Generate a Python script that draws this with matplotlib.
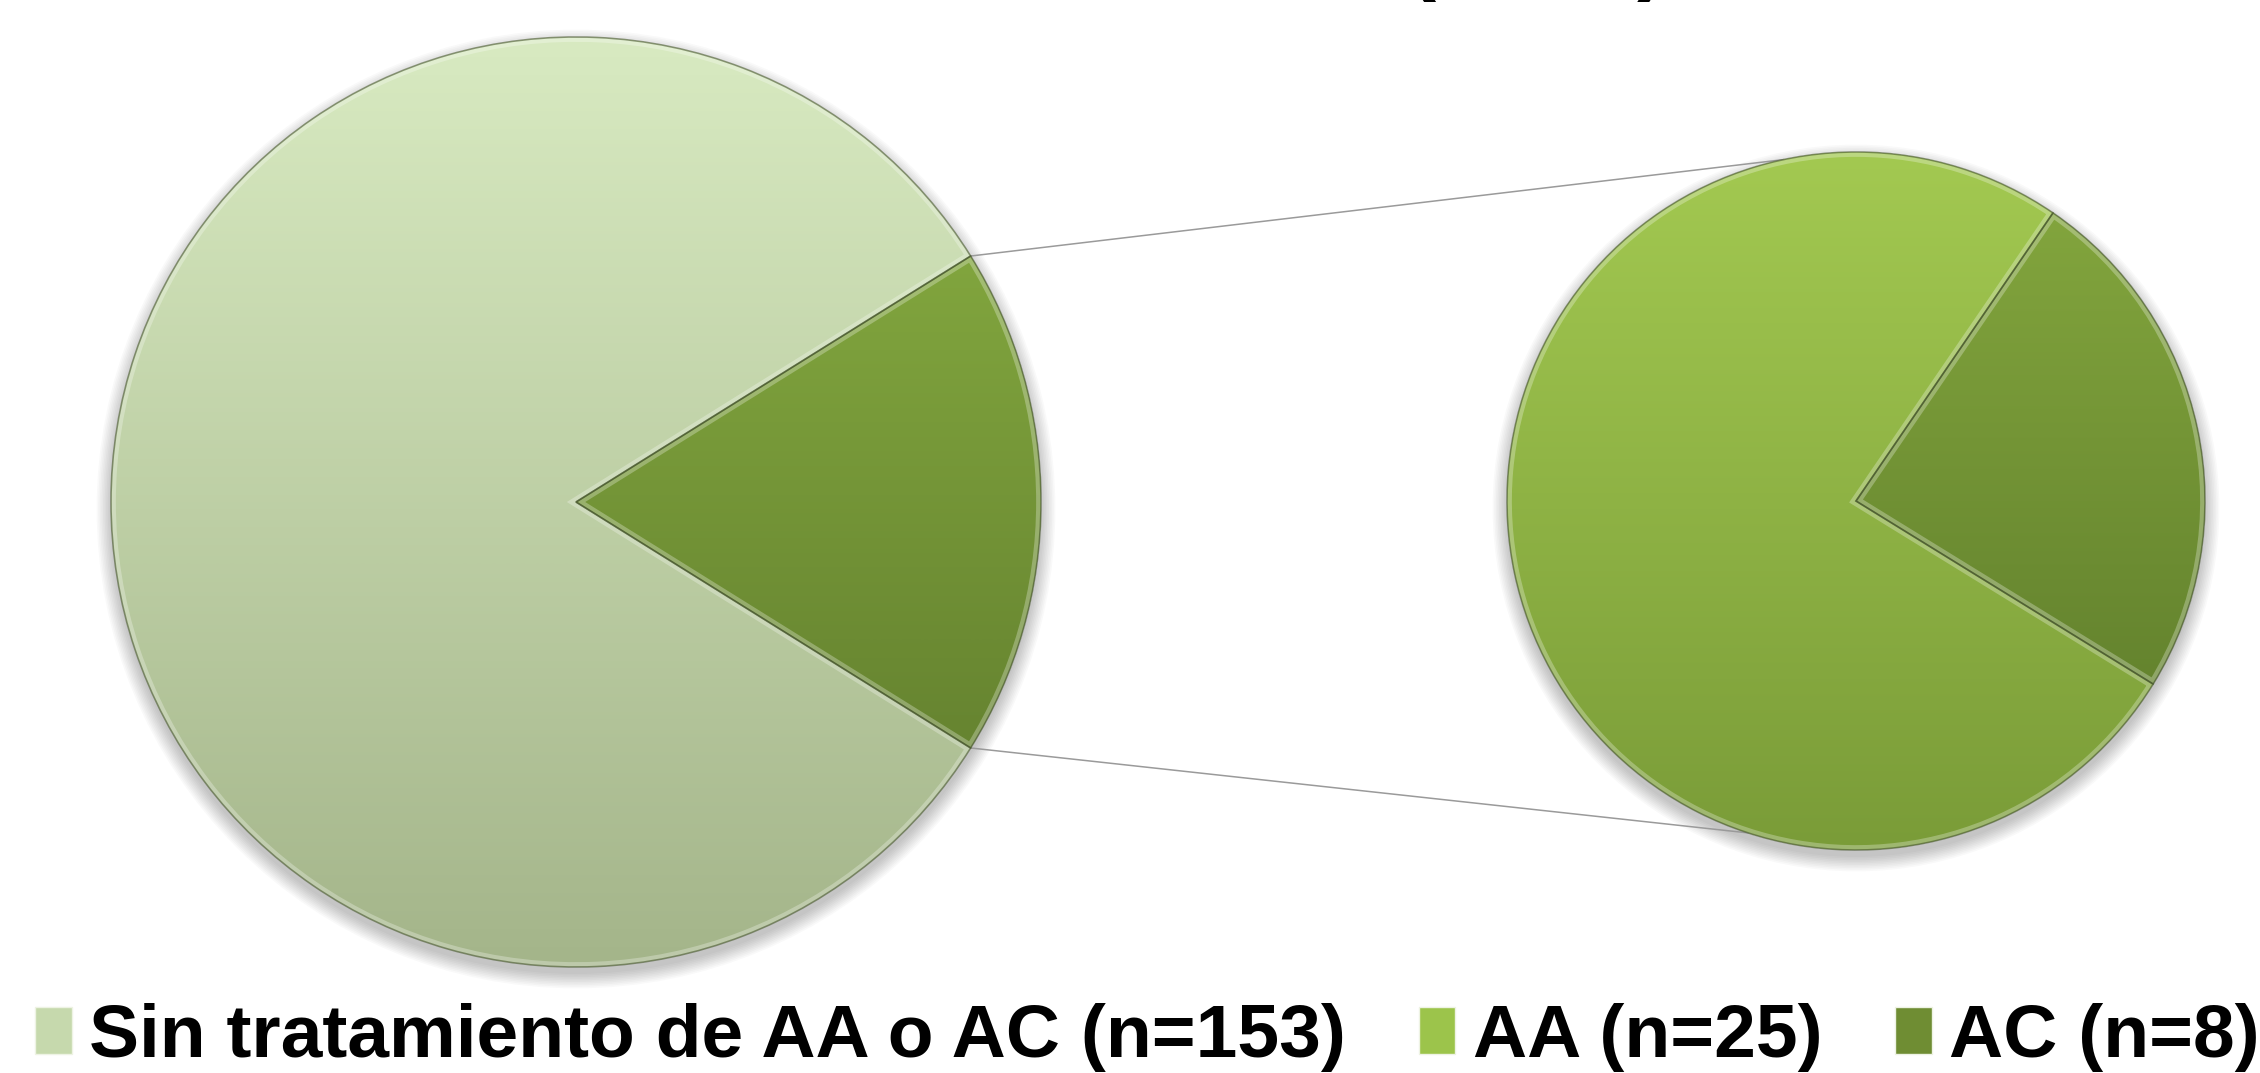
import numpy as np
import matplotlib
matplotlib.use("Agg")
import matplotlib.pyplot as plt
from matplotlib.colors import LinearSegmentedColormap
from matplotlib.patches import Patch, Wedge, Circle
from matplotlib.font_manager import FontProperties

# ── Data ───────────────────────────────────────────────────────────
labels = ["Sin tratamiento de AA o AC (n=153)", "AA (n=25)", "AC (n=8)"]
main_values = [153, 25 + 8]        # main pie: untreated vs. treated group
sub_values = [25, 8]               # secondary pie: AA vs. AC
title_text = "(n=33)"              # only the bottom of this line shows

# colours: (top of gradient, bottom of gradient)
sin_grad = ("#d8eac1", "#a4b58a")
grp_grad = ("#8db444", "#5a752a")
aa_grad = ("#a3c951", "#7a9c38")
ac_grad = ("#86a93f", "#5a7829")
legend_colors = ["#c6d9ad", "#9cc44b", "#6f8d33"]

W, H = 2260, 1073
fig = plt.figure(figsize=(W / 100, H / 100), dpi=100)
ax = fig.add_axes([0, 0, 1, 1])

left_c, left_r = (576, 571), 465
right_c, right_r = (1856, 572), 349


def soft_shadow(center, r):
    # blurred grey shadow slightly below the pie
    for k in range(10):
        ax.add_patch(Circle((center[0], center[1] - 7), r + k * 1.6,
                            facecolor="black", edgecolor="none",
                            alpha=0.022, zorder=0))


def shade_wedges(wedges, grads, center, r):
    for w, (top, bot) in zip(wedges, grads):
        cmap = LinearSegmentedColormap.from_list("g", [bot, top])
        grad = np.linspace(1, 0, 256).reshape(-1, 1)
        im = ax.imshow(grad, cmap=cmap, aspect="auto",
                       extent=[center[0] - r, center[0] + r,
                               center[1] - r, center[1] + r],
                       zorder=2, interpolation="bilinear")
        im.set_clip_path(w)
        # light bevel inside the slice
        hl = Wedge(w.center, w.r, w.theta1, w.theta2, fill=False,
                   edgecolor="white", linewidth=7, alpha=0.28, zorder=3)
        ax.add_patch(hl)
        hl.set_clip_path(w)
        # thin dark outline
        ax.add_patch(Wedge(w.center, w.r, w.theta1, w.theta2, fill=False,
                           edgecolor="#3f4f25", linewidth=1.2, alpha=0.55,
                           zorder=4))


soft_shadow(left_c, left_r)
soft_shadow(right_c, right_r)

# main pie: treated group centred on the right-hand side
grp_frac = main_values[1] / sum(main_values)
left_wedges, _ = ax.pie(main_values, center=left_c, radius=left_r,
                        startangle=180 * grp_frac, counterclock=True,
                        colors=[sin_grad[1], grp_grad[1]],
                        wedgeprops=dict(linewidth=0, zorder=1))

# secondary pie
ac_frac = sub_values[1] / sum(sub_values)
right_wedges, _ = ax.pie(sub_values, center=right_c, radius=right_r,
                         startangle=12 + 180 * ac_frac, counterclock=True,
                         colors=[aa_grad[1], ac_grad[1]],
                         wedgeprops=dict(linewidth=0, zorder=1))

shade_wedges(left_wedges, [sin_grad, grp_grad], left_c, left_r)
shade_wedges(right_wedges, [aa_grad, ac_grad], right_c, right_r)

# connector lines from the group slice to the secondary pie
g = left_wedges[1]
for a_left, a_right in [(g.theta2, 102), (g.theta1, 252)]:
    x0 = left_c[0] + left_r * np.cos(np.radians(a_left))
    y0 = left_c[1] + left_r * np.sin(np.radians(a_left))
    x1 = right_c[0] + right_r * np.cos(np.radians(a_right))
    y1 = right_c[1] + right_r * np.sin(np.radians(a_right))
    ax.plot([x0, x1], [y0, y1], color="#9a9a9a", linewidth=1.1, zorder=1.5)

ax.set_xlim(0, W)
ax.set_ylim(0, H)
ax.set_aspect("equal")
ax.axis("off")

bold = FontProperties(family=["Liberation Sans", "DejaVu Sans"],
                      weight="bold", size=54)

# title, cut off at the top edge
ax.text(1537, H + 16, title_text, ha="center", va="baseline",
        fontproperties=FontProperties(family=["Liberation Sans", "DejaVu Sans"],
                                      weight="bold", size=63),
        clip_on=False)

handles = [Patch(facecolor=c, edgecolor="#eef3e4", linewidth=1.0)
           for c in legend_colors]
fig.legend(handles, labels, loc="lower left",
           bbox_to_anchor=(35 / W, 1 / H), ncol=3, frameon=False,
           borderpad=0, borderaxespad=0, handlelength=0.49,
           handleheight=0.57, handletextpad=0.23, columnspacing=0.97,
           prop=bold)

fig.savefig("out.png", dpi=100)
